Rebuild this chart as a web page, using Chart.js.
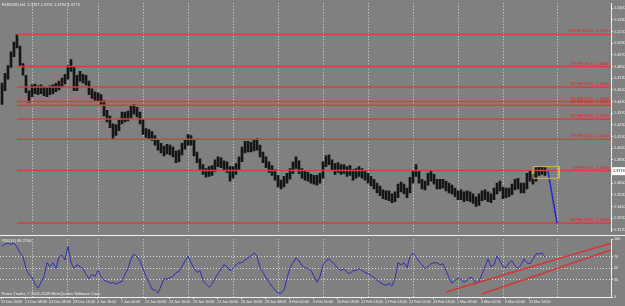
<!DOCTYPE html>
<html>
<head>
<meta charset="utf-8">
<script src="https://cdn.jsdelivr.net/npm/chart.js@4.4.0/dist/chart.umd.min.js"></script>
<style>
  body { margin: 0; background: #808080; width: 625px; height: 306px; overflow: hidden; position: relative; }
  canvas { position: absolute; left: 0; }
  #main { top: 0; }
  #sep { position: absolute; left: 0; top: 235px; width: 625px; height: 1px; background: #f2f2f2; }
  #ind { top: 236px; }
</style>
</head>
<body>
<canvas id="main" width="625" height="235"></canvas>
<div id="sep"></div>
<canvas id="ind" width="625" height="70"></canvas>
<script>
// EURUSD,H4 - bar highs / lows (one bar per slot)
const highs = [
  1.468,1.478,1.486,1.500,1.510,1.518,1.506,1.488,1.476,1.460,
  1.466,1.467,1.465,1.466,1.464,1.463,1.465,1.466,1.468,1.470,
  1.473,1.477,1.486,1.492,1.484,1.476,1.480,1.477,1.476,1.470,
  1.462,1.459,1.458,1.456,1.450,1.440,1.434,1.426,1.425,1.430,
  1.438,1.438,1.439,1.445,1.446,1.443,1.438,1.430,1.421,1.420,
  1.418,1.414,1.409,1.406,1.403,1.405,1.404,1.402,1.398,1.399,
  1.406,1.410,1.415,1.414,1.410,1.397,1.390,1.384,1.380,1.382,
  1.383,1.389,1.392,1.391,1.388,1.387,1.382,1.382,1.385,1.392,
  1.402,1.408,1.408,1.407,1.409,1.411,1.404,1.397,1.392,1.387,
  1.383,1.379,1.373,1.368,1.372,1.375,1.380,1.387,1.392,1.388,
  1.380,1.377,1.376,1.374,1.373,1.373,1.375,1.387,1.393,1.394,
  1.389,1.385,1.386,1.384,1.384,1.382,1.383,1.379,1.380,1.382,
  1.380,1.378,1.375,1.372,1.369,1.365,1.362,1.358,1.357,1.357,
  1.354,1.356,1.364,1.366,1.364,1.360,1.371,1.378,1.384,1.378,
  1.369,1.367,1.375,1.377,1.374,1.369,1.369,1.369,1.367,1.365,
  1.363,1.360,1.357,1.358,1.356,1.357,1.356,1.354,1.351,1.354,
  1.357,1.358,1.356,1.354,1.360,1.365,1.367,1.361,1.360,1.360,
  1.364,1.369,1.370,1.365,1.365,1.375,1.377,1.374,1.381,1.382,1.382,1.381
];
const lows = [
  1.446,1.460,1.472,1.484,1.495,1.504,1.486,1.476,1.458,1.448,
  1.454,1.457,1.456,1.457,1.455,1.454,1.456,1.457,1.459,1.461,
  1.464,1.467,1.472,1.480,1.460,1.460,1.470,1.468,1.466,1.456,
  1.452,1.450,1.449,1.446,1.434,1.428,1.422,1.410,1.414,1.419,
  1.426,1.428,1.429,1.432,1.436,1.433,1.426,1.415,1.412,1.410,
  1.409,1.404,1.399,1.396,1.393,1.395,1.394,1.392,1.386,1.387,
  1.394,1.400,1.404,1.404,1.393,1.386,1.379,1.374,1.371,1.372,
  1.373,1.377,1.382,1.381,1.378,1.376,1.367,1.370,1.374,1.379,
  1.387,1.396,1.397,1.397,1.398,1.399,1.392,1.386,1.381,1.376,
  1.373,1.368,1.361,1.359,1.361,1.365,1.369,1.375,1.380,1.375,
  1.370,1.368,1.367,1.365,1.364,1.363,1.365,1.370,1.382,1.384,
  1.378,1.374,1.376,1.374,1.375,1.372,1.373,1.368,1.370,1.372,
  1.370,1.368,1.365,1.362,1.359,1.355,1.352,1.349,1.348,1.347,
  1.345,1.346,1.350,1.356,1.354,1.350,1.355,1.365,1.372,1.365,
  1.359,1.358,1.363,1.367,1.364,1.359,1.359,1.360,1.357,1.355,
  1.354,1.351,1.348,1.348,1.346,1.347,1.346,1.344,1.341,1.342,
  1.347,1.348,1.346,1.345,1.348,1.354,1.357,1.349,1.350,1.351,
  1.353,1.358,1.359,1.355,1.355,1.359,1.367,1.364,1.367,1.373,1.374,1.373
];
const rsi = [
  88.1,91.5,93.2,91.5,93.2,86.4,76.3,69.5,49.2,39.0,
  33.9,22.0,15.3,25.4,35.6,59.3,52.5,59.3,49.2,69.5,
  72.9,64.4,88.1,59.3,49.2,55.9,52.5,49.2,39.0,32.2,
  39.0,35.6,45.8,35.6,28.8,27.1,23.7,25.4,22.0,25.4,
  27.1,39.0,49.2,66.1,74.6,69.5,62.7,49.2,35.6,25.4,
  13.6,11.9,6.8,18.6,32.2,30.5,33.9,35.6,42.4,44.1,
  52.5,62.7,71.2,59.3,49.2,42.4,45.8,28.8,22.0,16.9,
  22.0,32.2,40.7,47.5,55.9,52.5,45.8,49.2,55.9,59.3,
  59.3,64.4,67.8,71.2,76.3,71.2,50.8,42.4,33.9,25.4,
  18.6,11.9,6.8,6.8,11.9,32.2,50.8,59.3,67.8,62.7,
  54.2,50.8,49.2,45.8,35.6,25.4,35.6,55.9,62.7,66.1,
  61.0,55.9,49.2,45.8,49.2,42.4,40.7,45.8,45.8,49.2,
  45.8,42.4,40.7,37.3,33.9,28.8,25.4,22.0,20.3,23.7,
  18.6,32.2,59.3,55.9,59.3,50.8,69.5,76.3,69.5,61.0,
  55.9,49.2,52.5,57.6,59.3,59.3,55.9,57.6,45.8,33.9,
  23.7,28.8,32.2,30.5,25.4,28.8,33.9,32.2,23.7,27.1,
  39.0,52.5,66.1,52.5,55.9,71.2,62.7,52.5,50.8,59.3,
  62.7,54.2,49.2,55.9,66.1,59.3,57.6,66.1,74.6,74.6,76.3,69.3
];

const lastPrice = 1.3773;
const priceTicks = [1.545,1.533,1.521,1.509,1.497,1.485,1.473,1.461,1.449,1.437,
                    1.425,1.413,1.401,1.389,1.377,1.365,1.353,1.341,1.329,1.317];
const rsiTicks = [0, 30, 50, 70, 100];
const rsiLevels = [30, 50, 70];

// fibo levels
const fibPrices = [1.518, 1.485, 1.464, 1.449, 1.445, 1.431, 1.410, 1.378, 1.324];
const fibNames = ['58 FIB 100.0 - 1.5180', '58 FIB 76.4 - 1.4850', '58 FIB 61.8 - 1.4640',
                  '58 FIB 50.0 - 1.4490', '58 FIB 45.0 - 1.4450', '58 FIB 38.2 - 1.4310',
                  '58 FIB 23.6 - 1.4100', '58 FIB 0.0 - 1.3780', '58 FIB -38.2 - 1.3240'];
const fibStart = 5, fibEnd = 203;
const diagX = [5, 47], diagY = [1.518, 1.378];
const boxX = [177, 185.7, 185.7, 177, 177], boxY = [1.382, 1.382, 1.370, 1.370, 1.382];
const projX = [182, 185], projY = [1.377, 1.324];

// trend lines on the oscillator
const tl1X = [148, 203], tl1Y = [8.5, 93.2];
const tl2X = [160, 203], tl2Y = [5.1, 81.4];

// grid and time axis
const gridIdx = [10, 21.67, 32.33, 47.33, 62.33, 77.33, 92.33, 107, 122, 137, 152, 167, 185];
const dateIdx = [-0.3, 7.7, 15.7, 23.7, 31.7, 39.7, 47.7, 55.7, 63.7, 71.7, 79.7, 87.7,
                 95.7, 103.7, 111.7, 119.7, 127.7, 135.7, 143.7, 151.7, 159.7, 167.7, 175.7];
const dateLabels = ['15 Dec 2009', '21 Dec 08:00', '24 Dec 08:00', '29 Dec 16:00', '4 Jan 16:00',
  '7 Jan 00:00', '12 Jan 00:00', '14 Jan 16:00', '19 Jan 16:00', '22 Jan 00:00', '26 Jan 16:00',
  '29 Jan 08:00', '3 Feb 00:00', '5 Feb 16:00', '10 Feb 08:00', '12 Feb 16:00', '17 Feb 16:00',
  '22 Feb 00:00', '24 Feb 16:00', '1 Mar 08:00', '4 Mar 00:00', '9 Mar 00:00', '11 Mar 16:00'];

const FONT = 'Liberation Sans';
const FG = '#f0f0f0';
const X_MIN = -0.667, X_MAX = 203;

function pts(xs, ys) {
    return xs.map((x, i) => ({x: x, y: ys[i]}));
}

function lineSet(data, color, width, dash, order) {
    return {
        type: 'line', data: data, borderColor: color, borderWidth: width,
        borderDash: dash || [], pointRadius: 0, fill: false, tension: 0, order: order
    };
}

const mainSets = [];
mainSets.push({
    type: 'bar',
    data: highs.map((h, i) => ({x: i, y: [lows[i], h]})),
    backgroundColor: '#151515', barThickness: 2, grouped: false, order: 3
});
fibPrices.forEach(p => {
    mainSets.push(lineSet(pts([fibStart, fibEnd], [p, p]), 'rgb(214,62,62)', 1.5, null, 1));
});
mainSets.push(lineSet(pts(diagX, diagY), 'rgb(220,80,80)', 1, [1, 2], 1));
mainSets.push(lineSet(pts(boxX, boxY), 'rgb(214,184,84)', 1, null, 0));
mainSets.push(lineSet(pts(projX, projY), 'rgb(36,36,210)', 1.5, null, 0));

const mainText = {
    id: 'mainText',
    afterDraw(chart) {
        const {ctx, chartArea, scales} = chart;
        ctx.save();
        ctx.font = '4.2px "' + FONT + '"';
        ctx.fillStyle = 'rgb(235,30,30)';
        ctx.textAlign = 'right';
        ctx.textBaseline = 'bottom';
        fibPrices.forEach((p, i) => {
            ctx.fillText(fibNames[i], chartArea.right - 2, scales.y.getPixelForValue(p) - 1);
        });
        ctx.font = '4px "' + FONT + '"';
        ctx.textAlign = 'left';
        ctx.textBaseline = 'top';
        ctx.fillStyle = FG;
        ctx.fillText('EURUSD,H4  1.3767 1.3791 1.3764 1.3773', 2, 3);
        // current price marker on the axis
        const y = scales.y.getPixelForValue(lastPrice);
        ctx.font = '3.8px "' + FONT + '"';
        ctx.fillStyle = '#fff';
        ctx.fillRect(chartArea.right + 1, y - 4, 13, 8);
        ctx.fillStyle = '#000';
        ctx.textBaseline = 'middle';
        ctx.fillText(lastPrice.toFixed(4), chartArea.right + 2, y);
        ctx.restore();
    }
};

new Chart(document.getElementById('main'), {
    type: 'bar',
    data: {datasets: mainSets},
    options: {
        responsive: false, animation: false, devicePixelRatio: 1,
        layout: {padding: 0},
        plugins: {legend: {display: false}, tooltip: {enabled: false}},
        scales: {
            x: {
                type: 'linear', min: X_MIN, max: X_MAX, offset: false,
                afterBuildTicks: s => { s.ticks = gridIdx.map(v => ({value: v})); },
                afterFit: s => { s.height = 0; },
                ticks: {display: false},
                grid: {color: '#dedede', drawTicks: false, offset: false},
                border: {display: false, dash: [1, 2]}
            },
            y: {
                position: 'right', min: 1.315, max: 1.55,
                afterBuildTicks: s => { s.ticks = priceTicks.map(v => ({value: v})); },
                afterFit: s => { s.width = 14; },
                ticks: {color: FG, font: {family: FONT, size: 3.8}, padding: 1, autoSkip: false,
                        callback: v => v.toFixed(4)},
                grid: {display: true, drawOnChartArea: false, tickLength: 2, color: FG},
                border: {display: true, color: FG}
            }
        }
    },
    plugins: [mainText]
});

const indText = {
    id: 'indText',
    afterDraw(chart) {
        const {ctx} = chart;
        ctx.save();
        ctx.font = '4px "' + FONT + '"';
        ctx.fillStyle = FG;
        ctx.textAlign = 'left';
        ctx.textBaseline = 'top';
        ctx.fillText('RSI(14) 69.2700', 2, 3);
        ctx.textBaseline = 'bottom';
        ctx.fillText('Forex Trader, \u00a9 2001-2009 MetaQuotes Software Corp.', 2, 60);
        ctx.restore();
    }
};

new Chart(document.getElementById('ind'), {
    type: 'line',
    data: {
        datasets: [
            lineSet(rsi.map((v, i) => ({x: i, y: v})), 'rgb(46,46,178)', 1, null, 1),
            lineSet(pts(tl1X, tl1Y), 'rgb(214,52,52)', 1.5, null, 0),
            lineSet(pts(tl2X, tl2Y), 'rgb(214,52,52)', 1.5, null, 0)
        ]
    },
    options: {
        responsive: false, animation: false, devicePixelRatio: 1,
        layout: {padding: {top: 2}},
        plugins: {legend: {display: false}, tooltip: {enabled: false}},
        scales: {
            x: {
                type: 'linear', min: X_MIN, max: X_MAX, position: 'bottom',
                afterBuildTicks: s => { s.ticks = dateIdx.map(v => ({value: v})); },
                afterFit: s => { s.height = 9; },
                ticks: {color: FG, font: {family: FONT, size: 3.7}, padding: 1, align: 'start',
                        autoSkip: false, maxRotation: 0, minRotation: 0,
                        callback: (v, i) => dateLabels[i]},
                grid: {drawOnChartArea: false, tickLength: 2, color: FG},
                border: {display: true, color: FG}
            },
            xg: {
                type: 'linear', min: X_MIN, max: X_MAX, position: 'bottom',
                afterBuildTicks: s => { s.ticks = gridIdx.map(v => ({value: v})); },
                afterFit: s => { s.height = 0; },
                ticks: {display: false},
                grid: {color: '#dedede', drawTicks: false},
                border: {display: false, dash: [1, 2]}
            },
            y: {
                position: 'right', min: 0, max: 100,
                afterBuildTicks: s => { s.ticks = rsiTicks.map(v => ({value: v})); },
                afterFit: s => { s.width = 14; },
                ticks: {color: FG, font: {family: FONT, size: 3.8}, padding: 1, autoSkip: false},
                grid: {
                    color: c => rsiLevels.includes(c.tick && c.tick.value) ? '#dedede' : 'rgba(0,0,0,0)',
                    tickColor: FG, tickLength: 2
                },
                border: {display: true, color: FG, dash: [1, 2]}
            }
        }
    },
    plugins: [indText]
});
</script>
</body>
</html>
